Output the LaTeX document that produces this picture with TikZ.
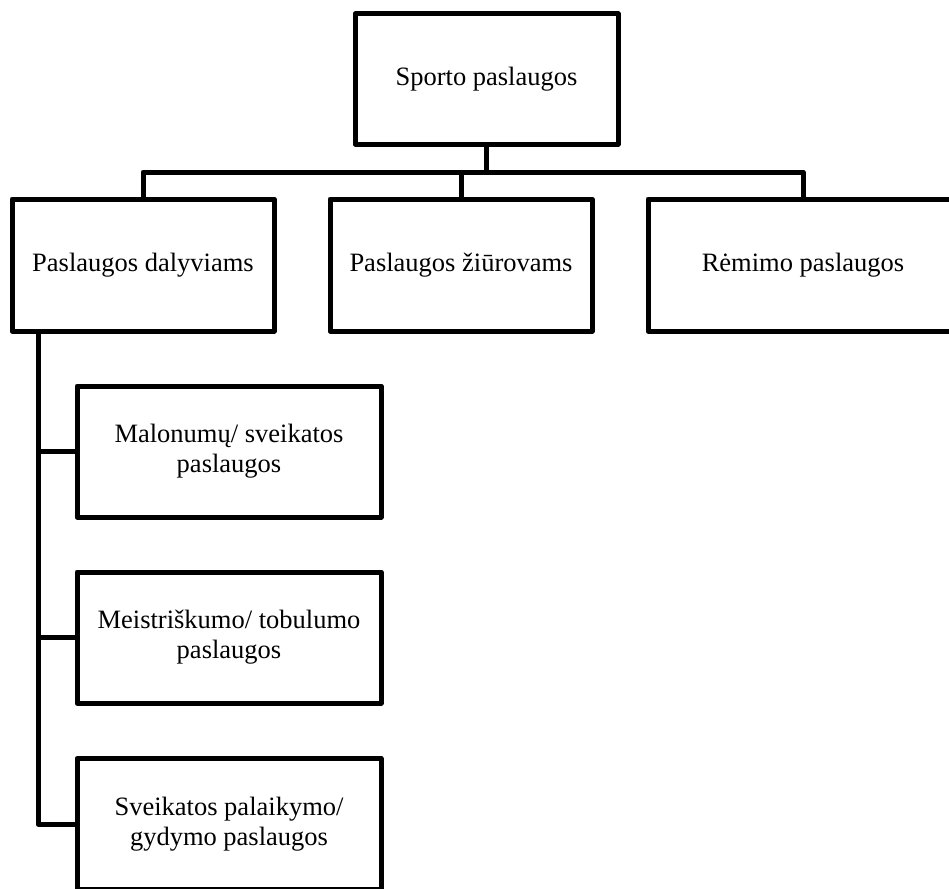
\documentclass[tikz,border=0pt]{standalone}
\usepackage{fontspec}
\setmainfont{Liberation Serif}
\begin{document}
\begin{tikzpicture}[x=1pt,y=-1pt,
  box/.style={draw=black, line width=5pt, line join=round, fill=white,
    inner sep=0pt, align=center, font=\fontsize{26.5}{30}\selectfont},
  link/.style={draw=black, line width=5pt, line join=round}]
  \path[use as bounding box, clip] (0,0) rectangle (949,888);
  \fill[white] (0,0) rectangle (949,888);

  % root
  \node[box, minimum width=263pt, minimum height=130pt] (root) at (486.5,79) {Sporto paslaugos};

  % first level
  \node[box, minimum width=262pt, minimum height=132pt] (dal) at (143,265) {Paslaugos dalyviams};
  \node[box, minimum width=262pt, minimum height=132pt] (ziu) at (461,265) {Paslaugos žiūrovams};
  \node[box, minimum width=310pt, minimum height=132pt] (rem) at (803,265) {Rėmimo paslaugos};

  % second level under participants
  \node[box, minimum width=304pt, minimum height=131pt] (mal) at (229,451.5) {Malonumų/ sveikatos\\paslaugos};
  \node[box, minimum width=304pt, minimum height=131pt] (mei) at (229,637.5) {Meistriškumo/ tobulumo\\paslaugos};
  \node[box, minimum width=304pt, minimum height=131pt] (gyd) at (229,824) {Sveikatos palaikymo/\\gydymo paslaugos};

  % bus between root and first level
  \coordinate (bus) at (486.5,172);
  \draw[link] (root.south) -- (bus);
  \draw[link] (dal.north) |- (bus) -| (rem.north);
  \draw[link] (ziu.north) -- (ziu.north |- bus);

  % spine on the left
  \coordinate (spine) at (38,331);
  \draw[link] (spine) |- (gyd.west);
  \draw[link] (mal.west) -- (mal.west -| spine);
  \draw[link] (mei.west) -- (mei.west -| spine);
\end{tikzpicture}
\end{document}
